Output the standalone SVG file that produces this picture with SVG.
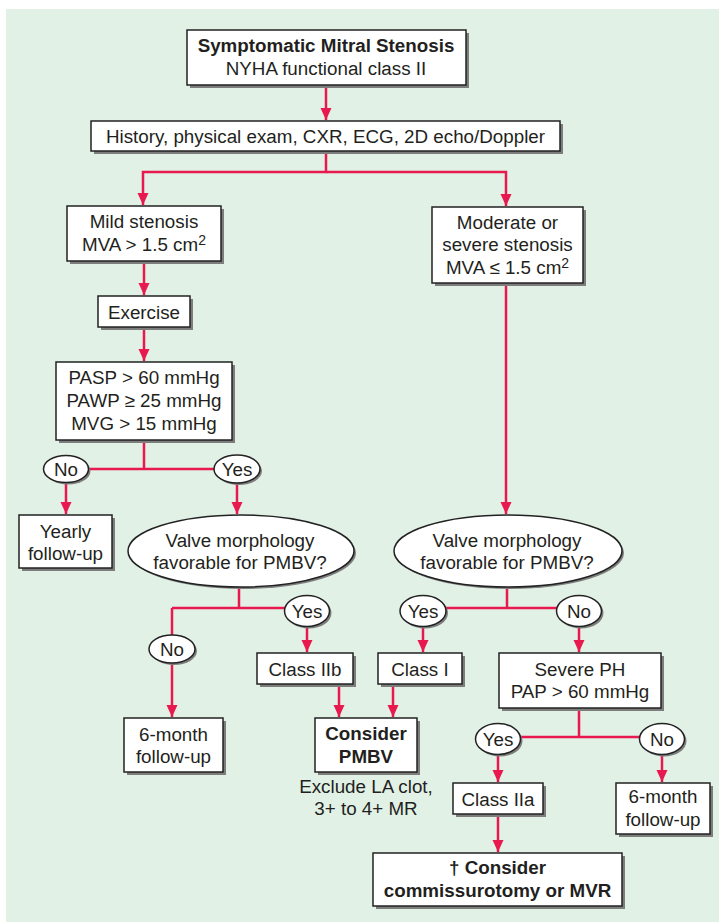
<svg xmlns="http://www.w3.org/2000/svg" width="719" height="923" viewBox="0 0 719 923">
<defs>
<style>
.bg{fill:#e1f1e6}
.box{fill:#fff;stroke:#222;stroke-width:1.5}
.sh{fill:#7d7d7d}
.t{font-family:"Liberation Sans",Arial,sans-serif;font-size:18.8px;fill:#231f20;text-anchor:middle}
.b{font-weight:bold}
.c{fill:none;stroke:#e8194f;stroke-width:2.5}
</style>
<marker id="ah" markerUnits="userSpaceOnUse" markerWidth="12" markerHeight="12" refX="12" refY="6" orient="auto">
<path d="M0,0.5 L12,6 L0,11.5 z" fill="#e8194f"/>
</marker>
</defs>
<rect x="0" y="0" width="719" height="923" fill="#fff"/>
<rect class="bg" x="6" y="9" width="713" height="913"/>

<g id="connectors">
<path class="c" d="M326,85 V120" marker-end="url(#ah)"/>
<path class="c" d="M326,151 V172 H143 V205" marker-end="url(#ah)"/>
<path class="c" d="M326,172 H506 V206" marker-end="url(#ah)"/>
<path class="c" d="M144,261 V295" marker-end="url(#ah)"/>
<path class="c" d="M144,327 V361" marker-end="url(#ah)"/>
<path class="c" d="M144,440 V469 M88,469 H214"/>
<path class="c" d="M66,483 V514" marker-end="url(#ah)"/>
<path class="c" d="M237,484 V514" marker-end="url(#ah)"/>
<path class="c" d="M239,587 V608 M172,608 H286 M172,608 V635"/>
<path class="c" d="M172,663 V717" marker-end="url(#ah)"/>
<path class="c" d="M307,627 V652" marker-end="url(#ah)"/>
<path class="c" d="M339,684 V717" marker-end="url(#ah)"/>
<path class="c" d="M506,283 V514" marker-end="url(#ah)"/>
<path class="c" d="M507,587 V608 M445,608 H558"/>
<path class="c" d="M423,627 V652" marker-end="url(#ah)"/>
<path class="c" d="M393,684 V717" marker-end="url(#ah)"/>
<path class="c" d="M579,627 V652" marker-end="url(#ah)"/>
<path class="c" d="M579,708 V737 M520,737 H640"/>
<path class="c" d="M498,755 V782" marker-end="url(#ah)"/>
<path class="c" d="M662,755 V782" marker-end="url(#ah)"/>
<path class="c" d="M498,814 V852" marker-end="url(#ah)"/>
</g>

<g id="n-start">
<rect class="sh" x="190" y="33" width="279" height="55"/>
<rect class="box" x="187" y="30" width="279" height="55"/>
<text class="t b" x="326" y="52">Symptomatic Mitral Stenosis</text>
<text class="t" x="326" y="75">NYHA functional class II</text>
</g>

<g id="n-history">
<rect class="sh" x="94" y="124" width="469" height="30"/>
<rect class="box" x="91" y="121" width="469" height="30"/>
<text class="t" x="325.5" y="142.5">History, physical exam, CXR, ECG, 2D echo/Doppler</text>
</g>

<g id="n-mild">
<rect class="sh" x="70" y="209" width="154" height="55"/>
<rect class="box" x="67" y="206" width="154" height="55"/>
<text class="t" x="144" y="228">Mild stenosis</text>
<text class="t" x="144" y="251">MVA &gt; 1.5 cm<tspan font-size="14" dy="-6">2</tspan></text>
</g>

<g id="n-exercise">
<rect class="sh" x="101" y="299" width="92" height="31"/>
<rect class="box" x="98" y="296" width="92" height="31"/>
<text class="t" x="144" y="318.5">Exercise</text>
</g>

<g id="n-pasp">
<rect class="sh" x="59" y="365" width="176" height="78"/>
<rect class="box" x="56" y="362" width="176" height="78"/>
<text class="t" x="144" y="384">PASP &gt; 60 mmHg</text>
<text class="t" x="144" y="407">PAWP ≥ 25 mmHg</text>
<text class="t" x="144" y="430">MVG &gt; 15 mmHg</text>
</g>

<g id="n-no1">
<ellipse class="sh" cx="68" cy="471" rx="22.5" ry="13.5"/>
<ellipse class="box" cx="66" cy="469" rx="22.5" ry="13.5"/>
<text class="t" x="66" y="475.5">No</text>
</g>

<g id="n-yes1">
<ellipse class="sh" cx="239" cy="471" rx="23" ry="14"/>
<ellipse class="box" cx="237" cy="469" rx="23" ry="14"/>
<text class="t" x="237" y="475.5">Yes</text>
</g>

<g id="n-yearly">
<rect class="sh" x="22" y="518" width="93" height="53"/>
<rect class="box" x="19" y="515" width="93" height="53"/>
<text class="t" x="65.5" y="537.5">Yearly</text>
<text class="t" x="65.5" y="559.5">follow-up</text>
</g>

<g id="n-valve1">
<ellipse class="sh" cx="243" cy="553" rx="113" ry="36"/>
<ellipse class="box" cx="241" cy="551" rx="113" ry="36"/>
<text class="t" x="240" y="546.5">Valve morphology</text>
<text class="t" x="240" y="568.5">favorable for PMBV?</text>
</g>

<g id="n-yes2">
<ellipse class="sh" cx="309" cy="613" rx="22.5" ry="15.5"/>
<ellipse class="box" cx="307" cy="611" rx="22.5" ry="15.5"/>
<text class="t" x="307" y="617.5">Yes</text>
</g>

<g id="n-no2">
<ellipse class="sh" cx="174" cy="651" rx="23" ry="14"/>
<ellipse class="box" cx="172" cy="649" rx="23" ry="14"/>
<text class="t" x="172" y="655.5">No</text>
</g>

<g id="n-6month1">
<rect class="sh" x="127" y="721" width="99" height="54"/>
<rect class="box" x="124" y="718" width="99" height="54"/>
<text class="t" x="173.5" y="740.5">6-month</text>
<text class="t" x="173.5" y="762.5">follow-up</text>
</g>

<g id="n-classIIb">
<rect class="sh" x="260" y="656" width="96" height="31"/>
<rect class="box" x="257" y="653" width="96" height="31"/>
<text class="t" x="305" y="675.5">Class IIb</text>
</g>

<g id="n-pmbv">
<rect class="sh" x="318" y="721" width="102" height="54"/>
<rect class="box" x="315" y="718" width="102" height="54"/>
<text class="t b" x="366" y="739.5">Consider</text>
<text class="t b" x="366" y="763">PMBV</text>
<text class="t" x="366" y="793">Exclude LA clot,</text>
<text class="t" x="366" y="815">3+ to 4+ MR</text>
</g>

<g id="n-moderate">
<rect class="sh" x="435" y="210" width="151" height="76"/>
<rect class="box" x="432" y="207" width="151" height="76"/>
<text class="t" x="507.5" y="228.5">Moderate or</text>
<text class="t" x="507.5" y="251">severe stenosis</text>
<text class="t" x="507.5" y="273.5">MVA ≤ 1.5 cm<tspan font-size="14" dy="-6">2</tspan></text>
</g>

<g id="n-valve2">
<ellipse class="sh" cx="510" cy="553" rx="114" ry="36"/>
<ellipse class="box" cx="508" cy="551" rx="114" ry="36"/>
<text class="t" x="507" y="546.5">Valve morphology</text>
<text class="t" x="507" y="568.5">favorable for PMBV?</text>
</g>

<g id="n-yes3">
<ellipse class="sh" cx="425" cy="613" rx="23" ry="15.5"/>
<ellipse class="box" cx="423" cy="611" rx="23" ry="15.5"/>
<text class="t" x="423" y="617.5">Yes</text>
</g>

<g id="n-no3">
<ellipse class="sh" cx="581" cy="613" rx="22.5" ry="15.5"/>
<ellipse class="box" cx="579" cy="611" rx="22.5" ry="15.5"/>
<text class="t" x="579" y="617.5">No</text>
</g>

<g id="n-classI">
<rect class="sh" x="381" y="656" width="84" height="31"/>
<rect class="box" x="378" y="653" width="84" height="31"/>
<text class="t" x="420" y="675.5">Class I</text>
</g>

<g id="n-severe">
<rect class="sh" x="502" y="656" width="162" height="55"/>
<rect class="box" x="499" y="653" width="162" height="55"/>
<text class="t" x="580" y="675.5">Severe PH</text>
<text class="t" x="580" y="697.5">PAP &gt; 60 mmHg</text>
</g>

<g id="n-yes4">
<ellipse class="sh" cx="500" cy="741" rx="22.5" ry="15.5"/>
<ellipse class="box" cx="498" cy="739" rx="22.5" ry="15.5"/>
<text class="t" x="498" y="745.5">Yes</text>
</g>

<g id="n-no4">
<ellipse class="sh" cx="664" cy="741" rx="22.5" ry="15.5"/>
<ellipse class="box" cx="662" cy="739" rx="22.5" ry="15.5"/>
<text class="t" x="662" y="745.5">No</text>
</g>

<g id="n-classIIa">
<rect class="sh" x="456" y="786" width="90" height="31"/>
<rect class="box" x="453" y="783" width="90" height="31"/>
<text class="t" x="498" y="805.5">Class IIa</text>
</g>

<g id="n-6month2">
<rect class="sh" x="619" y="786" width="94" height="51"/>
<rect class="box" x="616" y="783" width="94" height="51"/>
<text class="t" x="663" y="802.5">6-month</text>
<text class="t" x="663" y="825.5">follow-up</text>
</g>

<g id="n-final">
<rect class="sh" x="376" y="856" width="249" height="53"/>
<rect class="box" x="373" y="853" width="249" height="53"/>
<text class="t b" x="497.5" y="874">† Consider</text>
<text class="t b" x="497.5" y="897">commissurotomy or MVR</text>
</g>
</svg>
